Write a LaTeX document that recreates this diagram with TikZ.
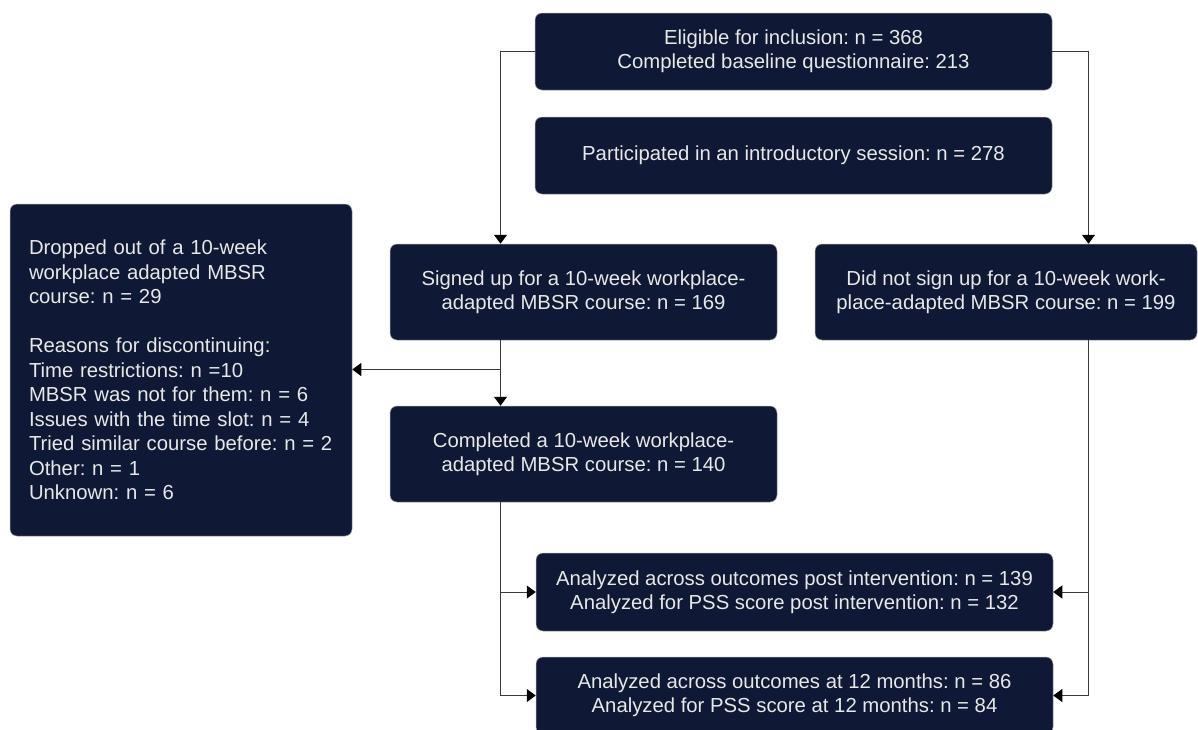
\documentclass[tikz,border=0pt]{standalone}
\usepackage{fontspec}
\setmainfont{Liberation Sans}
\usetikzlibrary{arrows.meta,calc}
\definecolor{boxfill}{HTML}{0F1936}
\definecolor{boxtext}{HTML}{E8E8E8}
\definecolor{linecol}{HTML}{3A3A3A}
\tikzset{
  box/.style={draw=gray!70, line width=0.5pt, fill=boxfill, rounded corners=7pt,
    text=boxtext, font=\fontsize{20.3}{24}\selectfont, align=center, inner sep=0pt},
  conn/.style={draw=linecol, line width=1pt},
  arr/.style={conn, -{Triangle[width=13pt,length=9pt,color=black]}},
}
\begin{document}
\frenchspacing
\begin{tikzpicture}[x=1pt,y=-1pt]
\useasboundingbox (0,0) rectangle (1198,729);
\clip (0,0) rectangle (1198,729);
\fill[white] (0,0) rectangle (1198,729);
\node[box, minimum width=517, minimum height=77] (top) at (793.5,51.5)
  {Eligible for inclusion: n = 368\\Completed baseline questionnaire: 213};
\node[box, minimum width=517, minimum height=77] (intro) at (793.5,155.5)
  {Participated in an introductory session: n = 278};
\node[box, minimum width=387, minimum height=96] (signed) at (583.5,292)
  {Signed up for a 10-week workplace-\\adapted MBSR course: n = 169};
\node[box, minimum width=382, minimum height=96] (notsigned) at (1006,292)
  {Did not sign up for a 10-week work-\\place-adapted MBSR course: n = 199};
\node[box, minimum width=342, minimum height=332, align=left, text width=304,
      font=\fontsize{20.3}{24.5}\selectfont] (left) at (181,370)
  {Dropped out of a 10-week\\workplace adapted MBSR\\course: n = 29\\[24.5pt]Reasons for discontinuing:\\Time restrictions: n =10\\MBSR was not for them: n = 6\\Issues with the time slot: n = 4\\Tried similar course before: n = 2\\Other: n = 1\\Unknown: n = 6};
\node[box, minimum width=387, minimum height=96] (completed) at (583.5,454)
  {Completed a 10-week workplace-\\adapted MBSR course: n = 140};
\node[box, minimum width=517, minimum height=78] (post) at (794.5,592)
  {Analyzed across outcomes post intervention: n = 139\\Analyzed for PSS score post intervention: n = 132};
\node[box, minimum width=517, minimum height=77] (twelve) at (794.5,695.5)
  {Analyzed across outcomes at 12 months: n = 86\\Analyzed for PSS score at 12 months: n = 84};
\coordinate (xL) at (500.5,0);
\coordinate (xR) at (1088.5,0);
\coordinate (br1) at (500.5,369.5);
\draw[arr] (top.west) -| (signed.north -| xL);
\draw[arr] (top.east) -| (notsigned.north -| xR);
\draw[arr] (signed.south -| xL) -- (completed.north -| xL);
\draw[arr] (br1) -- (left.east |- br1);
\draw[conn] (completed.south -| xL) -- (xL |- twelve.west);
\draw[arr] (xL |- post.west) -- (post.west);
\draw[arr] (xL |- twelve.west) -- (twelve.west);
\draw[conn] (notsigned.south -| xR) -- (xR |- twelve.east);
\draw[arr] (xR |- post.east) -- (post.east);
\draw[arr] (xR |- twelve.east) -- (twelve.east);
\end{tikzpicture}
\end{document}
